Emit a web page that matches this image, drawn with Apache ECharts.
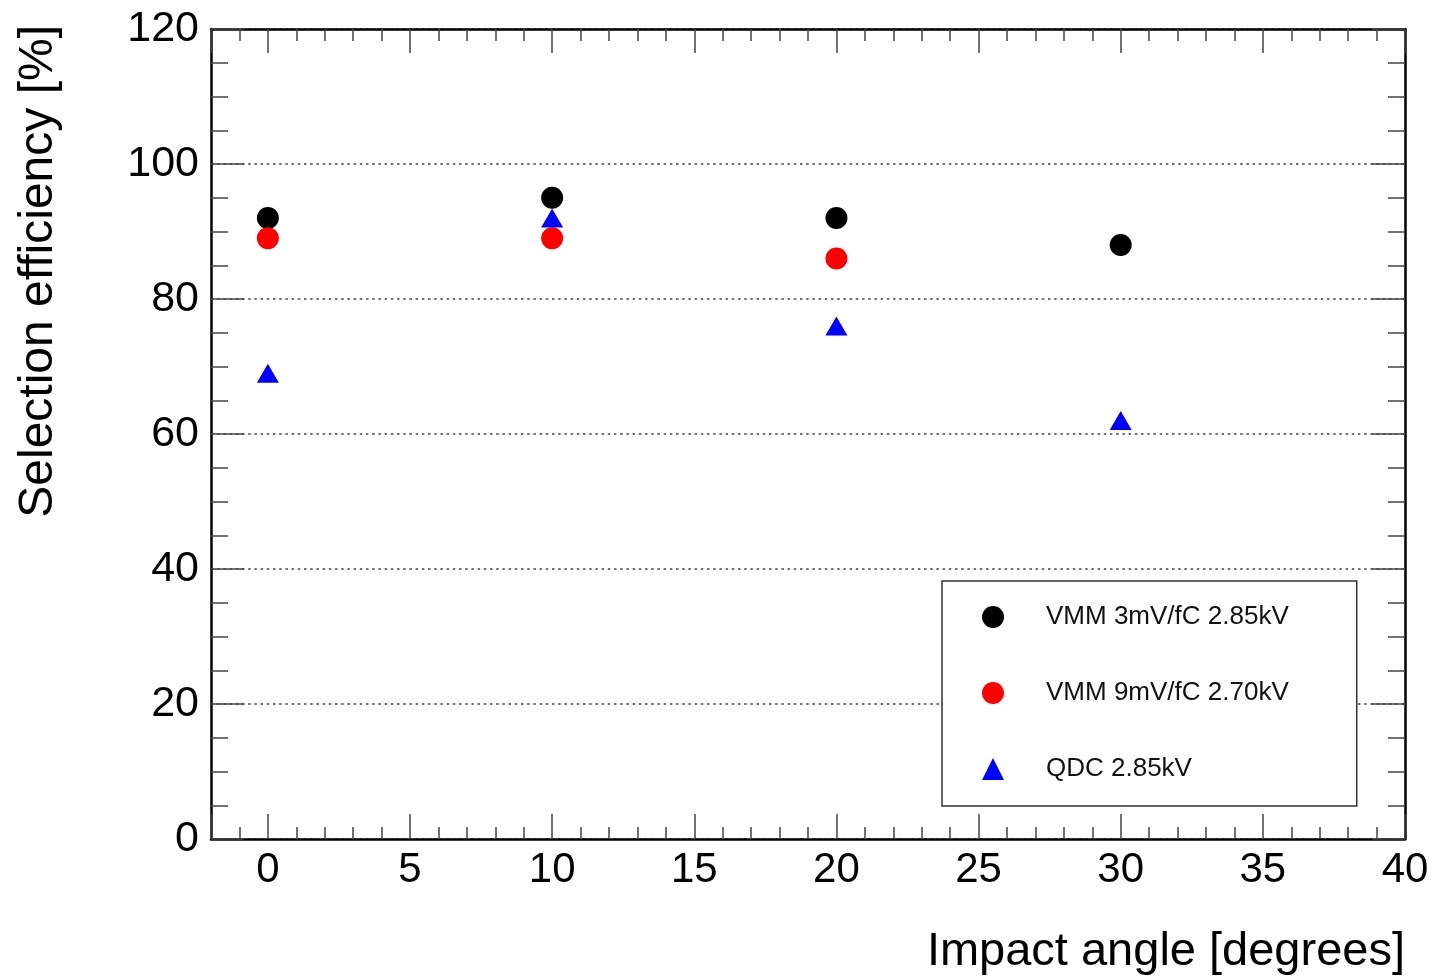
<!DOCTYPE html>
<html>
<head>
<meta charset="utf-8">
<title>Selection efficiency vs impact angle</title>
<script src="https://cdn.jsdelivr.net/npm/echarts@6/dist/echarts.min.js"></script>
<style>
  html, body { margin: 0; padding: 0; background: #fff; }
  #chart { width: 1434px; height: 977px; }
</style>
</head>
<body>
<div id="chart"></div>
<script>
// Impact angles (degrees) at which each configuration was measured
const angles = [0, 10, 20, 30];
const anglesVmm9 = [0, 10, 20];

// Selection efficiency [%] per configuration
const vmm3mV = [92, 95, 92, 88];
const vmm9mV = [89, 89, 86];
const qdc = [69, 92, 76, 62];

const seriesNames = ['VMM 3mV/fC 2.85kV', 'VMM 9mV/fC 2.70kV', 'QDC 2.85kV'];

const FONT = '"Liberation Sans", Arial, Helvetica, sans-serif';
const pairs = (xs, ys) => ys.map((y, i) => [xs[i], y]);

const tickStyle = { color: '#444', width: 1.5 };
const frameStyle = { color: '#000', width: 2.5 };

const xBase = {
  type: 'value',
  min: -2,
  max: 40,
  minInterval: 5,
  maxInterval: 5,
  axisLine: { show: true, onZero: false, lineStyle: frameStyle },
  splitLine: { show: false }
};
const yBase = {
  type: 'value',
  min: 0,
  max: 120,
  interval: 20,
  axisLine: { show: true, onZero: false, lineStyle: frameStyle }
};

const chart = echarts.init(document.getElementById('chart'), null, { renderer: 'canvas' });

chart.setOption({
  backgroundColor: '#fff',
  animation: false,
  textStyle: { fontFamily: FONT },
  grid: { left: 211, right: 29, top: 29, bottom: 138, containLabel: false },
  xAxis: [
    Object.assign({}, xBase, {
      position: 'bottom',
      name: 'Impact angle [degrees]',
      nameLocation: 'end',
      nameGap: 0,
      nameTextStyle: {
        fontFamily: FONT, fontSize: 47, color: '#000',
        align: 'right', verticalAlign: 'top', padding: [90, 0, 0, 0]
      },
      axisTick: { show: true, inside: true, length: 25, lineStyle: tickStyle },
      minorTick: { show: true, splitNumber: 5, length: 12, lineStyle: tickStyle },
      axisLabel: {
        show: true, showMinLabel: false, margin: 10,
        fontFamily: FONT, fontSize: 42, color: '#000'
      }
    }),
    Object.assign({}, xBase, {
      position: 'top',
      axisTick: { show: true, inside: true, length: 24, lineStyle: tickStyle },
      minorTick: { show: true, splitNumber: 5, length: 12, lineStyle: tickStyle },
      axisLabel: { show: false }
    })
  ],
  yAxis: [
    Object.assign({}, yBase, {
      position: 'left',
      name: 'Selection efficiency [%]',
      nameLocation: 'end',
      nameGap: 0,
      nameRotate: 90,
      nameTextStyle: {
        fontFamily: FONT, fontSize: 48, color: '#000',
        align: 'right', verticalAlign: 'bottom', padding: [0, -4, 148, 0]
      },
      axisTick: { show: true, inside: true, length: 33, lineStyle: tickStyle },
      minorTick: { show: true, splitNumber: 4, length: 17, lineStyle: tickStyle },
      axisLabel: { show: true, margin: 12, fontFamily: FONT, fontSize: 43, color: '#000' },
      splitLine: {
        show: true,
        lineStyle: { color: '#444', width: 1.5, type: [2.5, 3.7] }
      }
    }),
    Object.assign({}, yBase, {
      position: 'right',
      axisTick: { show: true, inside: true, length: 33, lineStyle: tickStyle },
      minorTick: { show: true, splitNumber: 4, length: 17, lineStyle: tickStyle },
      axisLabel: { show: false },
      splitLine: { show: false }
    })
  ],
  legend: {
    orient: 'vertical',
    left: 942,
    top: 581,
    padding: [23, 68, 24, 40],
    itemWidth: 22,
    itemHeight: 22,
    itemGap: 50,
    borderColor: '#333',
    borderWidth: 1.5,
    backgroundColor: '#fff',
    selectedMode: false,
    itemStyle: { opacity: 1 },
    textStyle: { fontFamily: FONT, fontSize: 26, color: '#111', padding: [0, 0, 0, 37] },
    data: [
      { name: seriesNames[0], icon: 'circle' },
      { name: seriesNames[1], icon: 'circle' },
      { name: seriesNames[2], icon: 'triangle' }
    ]
  },
  series: [
    {
      name: seriesNames[0],
      type: 'scatter',
      symbol: 'circle',
      symbolSize: 22,
      itemStyle: { color: '#000', opacity: 1 },
      data: pairs(angles, vmm3mV)
    },
    {
      name: seriesNames[1],
      type: 'scatter',
      symbol: 'circle',
      symbolSize: 22,
      itemStyle: { color: '#ff0000', opacity: 1 },
      data: pairs(anglesVmm9, vmm9mV)
    },
    {
      name: seriesNames[2],
      type: 'scatter',
      symbol: 'triangle',
      symbolSize: [22, 19],
      itemStyle: { color: '#0000ff', opacity: 1 },
      data: pairs(angles, qdc)
    }
  ]
});
</script>
</body>
</html>
